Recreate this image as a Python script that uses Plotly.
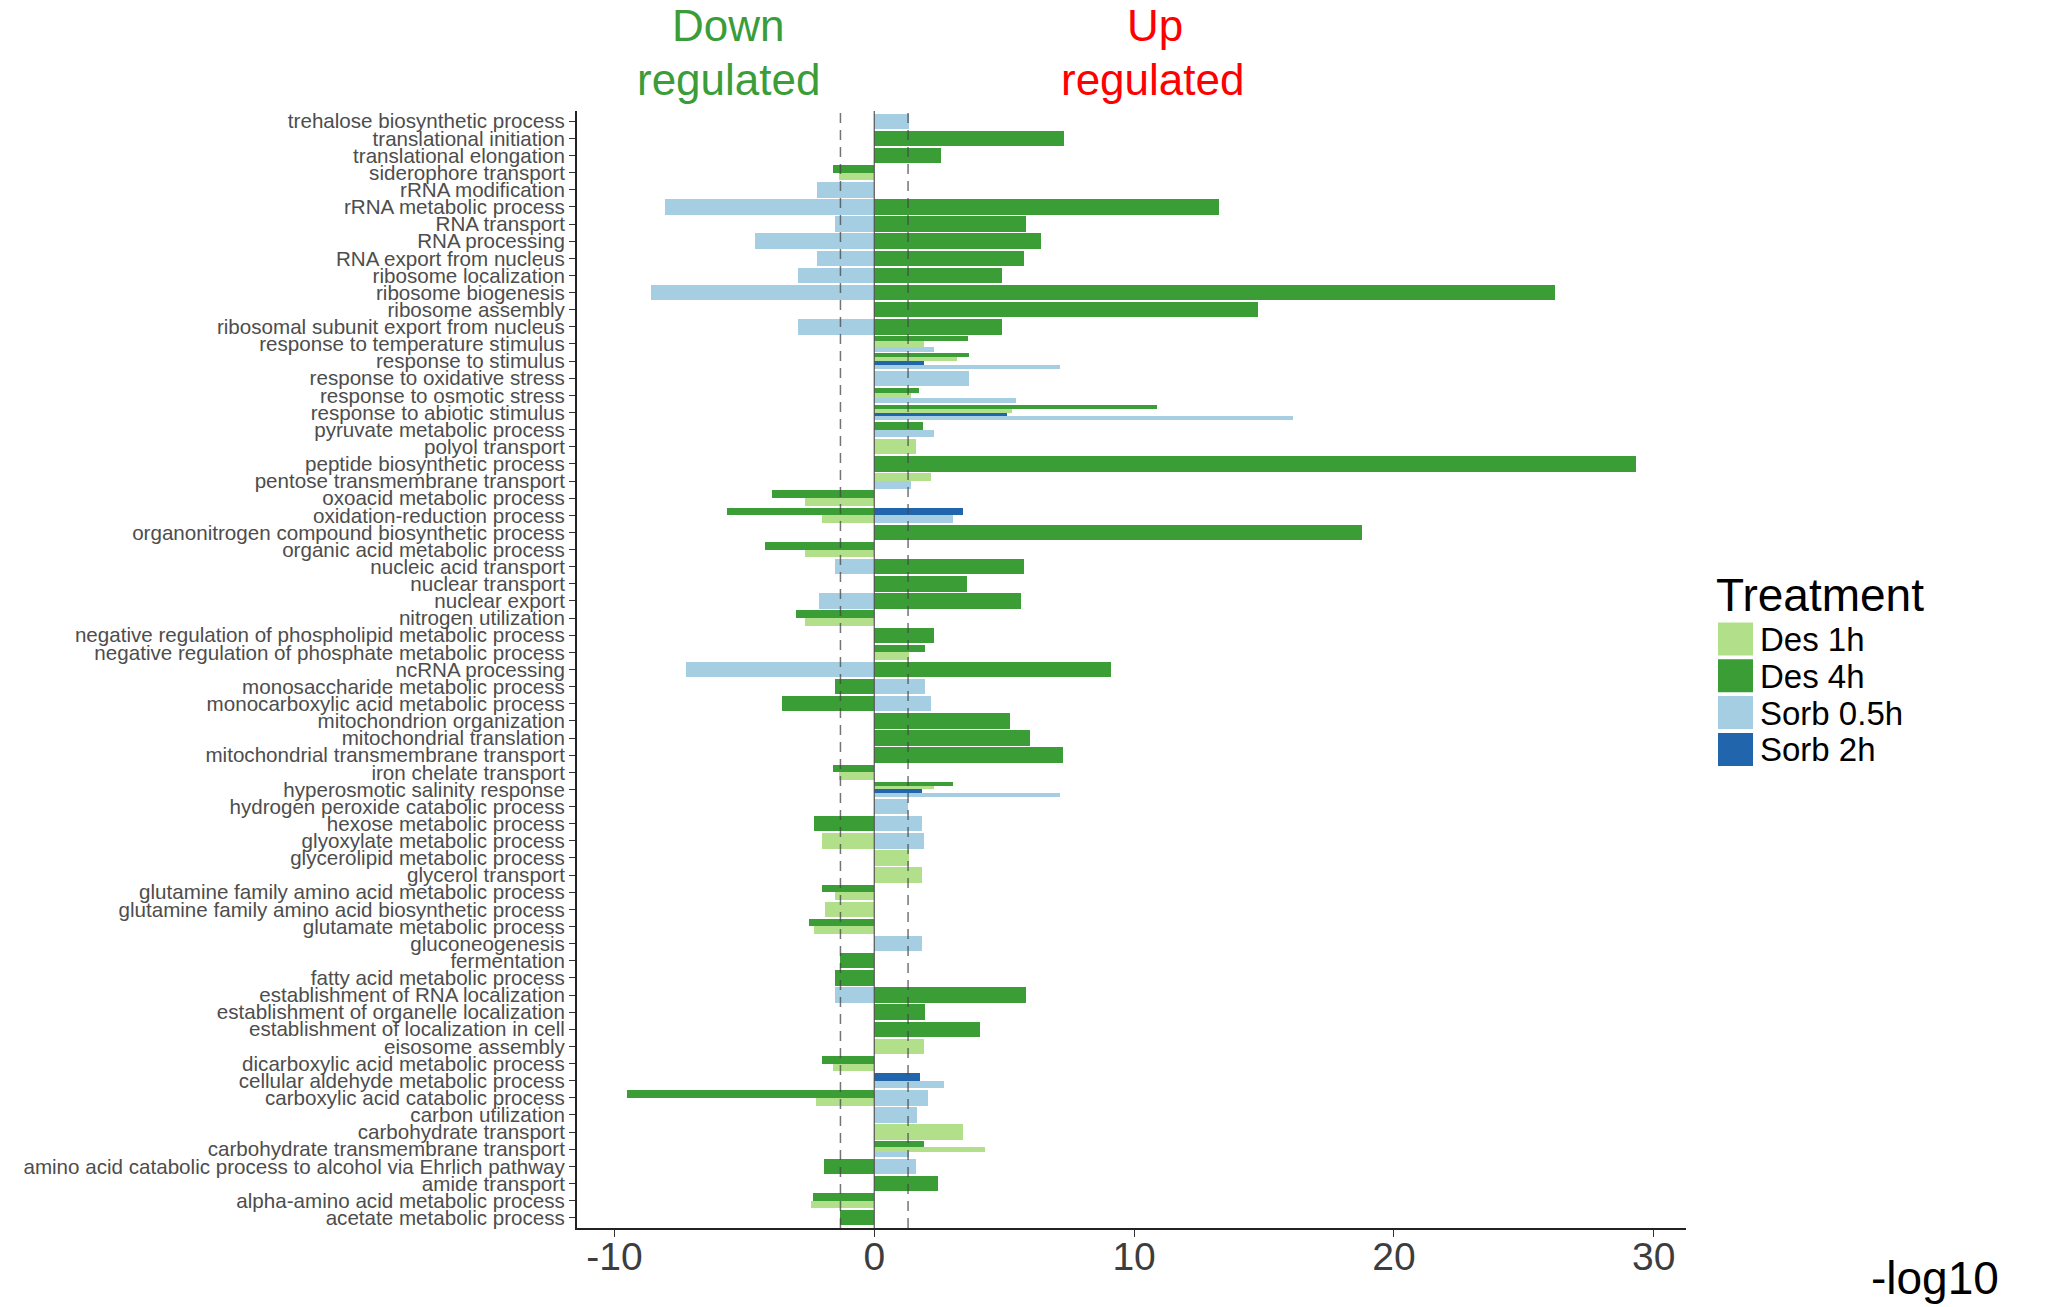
import plotly.graph_objects as go

# GO terms, top to bottom as in the figure
terms = [
    "trehalose biosynthetic process", "translational initiation", "translational elongation",
    "siderophore transport", "rRNA modification", "rRNA metabolic process", "RNA transport",
    "RNA processing", "RNA export from nucleus", "ribosome localization", "ribosome biogenesis",
    "ribosome assembly", "ribosomal subunit export from nucleus", "response to temperature stimulus",
    "response to stimulus", "response to oxidative stress", "response to osmotic stress",
    "response to abiotic stimulus", "pyruvate metabolic process", "polyol transport",
    "peptide biosynthetic process", "pentose transmembrane transport", "oxoacid metabolic process",
    "oxidation-reduction process", "organonitrogen compound biosynthetic process",
    "organic acid metabolic process", "nucleic acid transport", "nuclear transport", "nuclear export",
    "nitrogen utilization", "negative regulation of phospholipid metabolic process",
    "negative regulation of phosphate metabolic process", "ncRNA processing",
    "monosaccharide metabolic process", "monocarboxylic acid metabolic process",
    "mitochondrion organization", "mitochondrial translation", "mitochondrial transmembrane transport",
    "iron chelate transport", "hyperosmotic salinity response", "hydrogen peroxide catabolic process",
    "hexose metabolic process", "glyoxylate metabolic process", "glycerolipid metabolic process",
    "glycerol transport", "glutamine family amino acid metabolic process",
    "glutamine family amino acid biosynthetic process", "glutamate metabolic process",
    "gluconeogenesis", "fermentation", "fatty acid metabolic process",
    "establishment of RNA localization", "establishment of organelle localization",
    "establishment of localization in cell", "eisosome assembly", "dicarboxylic acid metabolic process",
    "cellular aldehyde metabolic process", "carboxylic acid catabolic process", "carbon utilization",
    "carbohydrate transport", "carbohydrate transmembrane transport",
    "amino acid catabolic process to alcohol via Ehrlich pathway", "amide transport",
    "alpha-amino acid metabolic process", "acetate metabolic process",
]

N = None
# signed -log10 p values (negative = down regulated)
des_1h = [N, N, N, -1.35, N, N, N, N, N, N, N, N, N, 1.9, 3.2, N, 1.42, 5.3, N, 1.6,
          N, 2.19, -2.67, -2.0, N, -2.67, N, N, N, -2.67, N, 1.35, N, N, N, N, N, N, -1.35, 2.28,
          N, N, -2.0, 1.35, 1.83, -1.52, -1.88, -2.3, N, N, N, N, N, N, 1.91, -1.57, N, -2.25, N, 3.4,
          4.27, N, N, -2.42, N]
des_4h = [N, 7.3, 2.56, -1.57, N, 13.26, 5.84, 6.43, 5.76, 4.92, 26.2, 14.75, 4.9, 3.59, 3.65, N, 1.73, 10.9, 1.88, N,
          29.3, N, -3.93, -5.67, 18.76, -4.21, 5.76, 3.57, 5.65, -3.03, 2.3, 1.97, 9.13, -1.52, -3.54, 5.22, 6.01, 7.28, -1.57, 3.04,
          N, -2.3, N, N, N, -2.0, N, -2.53, N, -1.32, -1.52, 5.84, 1.97, 4.07, N, -2.0, N, -9.5, N, N,
          1.91, -1.94, 2.47, -2.36, -1.32]
sorb_05h = [1.35, N, N, N, -2.19, -8.06, -1.52, -4.6, -2.19, -2.92, -8.6, N, -2.92, 2.28, 7.15, 3.65, 5.45, 16.1, 2.28, N,
            N, 1.4, N, 3.03, N, N, -1.52, N, -2.13, N, N, N, -7.25, 1.97, 2.19, N, N, N, N, 7.15,
            1.3, 1.85, 1.9, N, N, N, N, N, 1.83, N, N, -1.52, N, N, N, N, 2.7, 2.08, 1.66, N,
            1.35, 1.6, N, N, N]
sorb_2h = [N, N, N, N, N, N, N, N, N, N, N, N, N, N, 1.9, N, N, 5.1, N, N,
           N, N, N, 3.4, N, N, N, N, N, N, N, N, N, N, N, N, N, N, N, 1.84,
           N, N, N, N, N, N, N, N, N, N, N, N, N, N, N, N, 1.77, N, N, N,
           N, N, N, N, N]

x_ticks = [-10, 0, 10, 20, 30]
x_ticklabels = ["-10", "0", "10", "20", "30"]

treatments = ["Des 1h", "Des 4h", "Sorb 0.5h", "Sorb 2h"]
colors = {"Des 1h": "#B2DF8A", "Des 4h": "#3A9D35", "Sorb 0.5h": "#A6CEE3", "Sorb 2h": "#2166AC"}
values = {"Des 1h": des_1h, "Des 4h": des_4h, "Sorb 0.5h": sorb_05h, "Sorb 2h": sorb_2h}
# dodge order from bottom to top inside a row
stack_order = ["Sorb 0.5h", "Sorb 2h", "Des 1h", "Des 4h"]

n = len(terms)
bars = {t: {"x": [], "y": [], "w": []} for t in treatments}
for i in range(n):
    yc = n - 1 - i
    # up and down bars are dodged separately
    for up in (True, False):
        present = [t for t in stack_order
                   if values[t][i] is not None and (values[t][i] > 0) == up]
        k = len(present)
        for j, t in enumerate(present):
            w = 0.9 / k
            bars[t]["x"].append(values[t][i])
            bars[t]["y"].append(yc - 0.45 + (j + 0.5) * w)
            bars[t]["w"].append(w)

fig = go.Figure()
for t in treatments:
    fig.add_trace(go.Bar(x=bars[t]["x"], y=bars[t]["y"], width=bars[t]["w"], orientation='h',
                         name=t, marker=dict(color=colors[t], line=dict(width=0)), showlegend=False))

FONT = "Liberation Sans, Arial, Helvetica, sans-serif"
W, H = 2069, 1307
OFF = 8  # page body margin
PL, PR, PT, PB = 577, 1686, 111, 1228  # plot box on screen
L, T = PL - OFF, PT - OFF
R, B = W - PR + OFF, H - PB + OFF
pw, ph = PR - PL, PB - PT

def px(xp):
    return (xp - PL) / pw

def py(yp):
    return (PB - yp) / ph

def note(text, x, y, size, color, xref='paper', xanchor='center'):
    fig.add_annotation(text=text, x=x, y=y, xref=xref, yref='paper', showarrow=False,
                       xanchor=xanchor, yanchor='middle',
                       font=dict(size=size, color=color, family=FONT))

# significance thresholds and zero line
for xv in (-1.301, 1.301):
    fig.add_shape(type='line', x0=xv, x1=xv, y0=0, y1=1, xref='x', yref='paper', layer='above',
                  line=dict(color='rgba(70,70,70,0.75)', width=1.5, dash='10px,7px'))
fig.add_shape(type='line', x0=0, x1=0, y0=0, y1=1, xref='x', yref='paper', layer='above',
              line=dict(color='#555555', width=1.2))

# headers
note("Down", -5.6, py(25), 44, '#3A9D3A', xref='x')
note("regulated", -5.6, py(80), 44, '#3A9D3A', xref='x')
note("Up", 10.8, py(25), 44, '#FF0000', xref='x')
note("regulated", 10.7, py(80), 44, '#FF0000', xref='x')
note("-log10", px(1935), py(1278), 46, 'black')

# legend drawn by hand (ggplot style big keys)
note("Treatment", px(1714), py(595), 46, 'black', xanchor='left')
for j, t in enumerate(treatments):
    top = 622.5 + j * 36.8
    fig.add_shape(type='rect', xref='paper', yref='paper', x0=px(1718), x1=px(1753),
                  y0=py(top + 33), y1=py(top), fillcolor=colors[t], line=dict(width=0))
    note(t, px(1758), py(top + 17), 33, 'black', xanchor='left')

fig.update_layout(
    template='none', width=W, height=H, barmode='overlay', bargap=0,
    margin=dict(l=L, r=R, t=T, b=B, autoexpand=False),
    paper_bgcolor='white', plot_bgcolor='white', showlegend=False,
    font=dict(family=FONT),
)
fig.update_xaxes(range=[-11.44, 31.24], tickvals=x_ticks, ticktext=x_ticklabels,
                 showgrid=False, zeroline=False,
                 showline=True, linecolor='#222222', linewidth=2, ticks='outside', ticklen=7,
                 tickcolor='#333333', tickfont=dict(size=39, color='#3d3d3d', family=FONT),
                 ticklabelstandoff=-14, automargin=False)
fig.update_yaxes(range=[-0.6, n - 1 + 0.6], tickvals=list(range(n)), ticktext=terms[::-1],
                 showgrid=False, zeroline=False, showline=True, linecolor='#222222', linewidth=2,
                 ticks='outside', ticklen=6, tickcolor='#333333',
                 tickfont=dict(size=20.6, color='#4d4d4d', family=FONT), automargin=False)

fig.write_html("out.html")
